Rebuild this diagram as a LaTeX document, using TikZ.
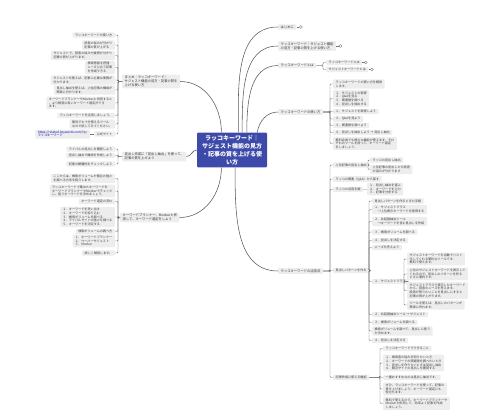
\documentclass[tikz,border=0pt]{standalone}
\usepackage{fontspec}
\setmainfont{Noto Sans CJK JP}
\usetikzlibrary{positioning}
\definecolor{rootblue}{HTML}{3D4AA9}

\begin{document}
\begin{tikzpicture}[x=1pt, y=-1pt,
  root/.style={fill=rootblue, text=white, font=\fontsize{6}{8}\selectfont\bfseries, align=center,
               rounded corners=1pt, inner xsep=3pt, inner ysep=2.5pt, minimum width=70pt},
  topic/.style={fill=black!7, text=black!80, font=\fontsize{3.3}{4}\selectfont, align=left,
                rounded corners=0.8pt, inner xsep=2.5pt, inner ysep=1.3pt},
  leaf/.style={topic, text=black!75, font=\fontsize{3.1}{3.7}\selectfont},
  url/.style={leaf, text=blue!70!black},
  fold/.style={circle, draw=black!55, line width=0.35pt, inner sep=0pt, minimum size=3pt},
  brk/.style={draw=black!55, line width=0.4pt, rounded corners=1pt},
  link/.style={draw=black!65, line width=0.55pt}
]
\useasboundingbox (0,0) rectangle (480,418);

\node[root] (root) at (232,150) {ラッコキーワード｜\\サジェスト機能の見方\\・記事の質を上げる使\\い方};

\node[topic, anchor=west] (sum) at (122,81.5) {まとめ：ラッコキーワード｜\\サジェスト機能の見方・記事の質を\\上げる使い方};
\node[leaf, anchor=east] (a1) at (115,35) {ラッコキーワードの使い方};
\node[leaf, anchor=east] (a2) at (115,45) {読者の悩みが分かり\\記事の質が上がる};
\node[leaf, anchor=east] (a3) at (115,55.5) {サジェストで、読者の悩みや疑問が分かり\\記事の質が上がります。};
\node[leaf, anchor=east] (a4) at (115,67.5) {検索意図を把握\\ニーズに合う記事\\を作成できる};
\node[leaf, anchor=east] (a5) at (115,80) {サジェストを使えば、記事に必要な情報が\\分かります。};
\node[leaf, anchor=east] (a6) at (115,90) {見出し抽出を使えば、上位記事の構成が\\簡単に分かります。};
\node[leaf, anchor=east] (a7) at (115,103) {キーワードプランナーやMozbarと併用すると\\、より精度の高いキーワード選定ができ\\ます。};
\node[leaf, anchor=east] (a8) at (115,115.5) {ラッコキーワードを活用しましょう。};
\node[leaf, anchor=east] (a9) at (115,124) {無料でも十分使えるツール\\なので試してみてください。};
\node[leaf, anchor=east] (a10) at (115,134) {公式サイト};
\node[url, anchor=east] (a10u) at (90,134) {https://related-keywords.com/?q=\\ラッコキーワード};

\node[topic, anchor=west] (hd) at (122,156.5) {見出し作成に「見出し抽出」を使って、\\記事の質を上げよう};
\node[leaf, anchor=east] (b1) at (115,149) {ライバルの見出しを確認しよう};
\node[leaf, anchor=east] (b2) at (115,155.5) {見出し抽出で構成を作成しよう};
\node[leaf, anchor=east] (b3) at (115,164) {記事の網羅性をチェックしよう};

\node[topic, anchor=west] (kp) at (120,217.5) {キーワードプランナー、Mozbarと併\\用して、キーワード選定をしよう};
\node[leaf, anchor=east] (c1) at (115,178.5) {ここからは、検索ボリュームや競合の強さ\\を調べる方法を紹介します。};
\node[leaf, anchor=east] (c2) at (115,191) {ラッコキーワードで集めたキーワードを\\キーワードプランナーやMozbarでチェック\\し、狙うキーワードを決めましょう。};
\node[leaf, anchor=east] (c3) at (115,201.5) {キーワード選定の流れ};
\node[leaf, anchor=east] (c4) at (115,217) {１．キーワードを洗い出す\\２．キーワードを絞り込む\\３．検索ボリュームを調べる\\４．ライバルサイトの強さを調べる\\５．キーワードを決定する};
\node[leaf, anchor=east] (c5) at (115,231.5) {検索ボリュームの調べ方};
\node[leaf, anchor=east] (c6) at (115,241) {１．キーワードプランナー\\２．ウーバーサジェスト\\３．Mozbar};
\node[leaf, anchor=east] (c7) at (115,253) {詳しく解説します。};

\node[topic, anchor=west] (r1) at (278,27) {はじめに};
\node[topic, anchor=west] (r2) at (278,46) {ラッコキーワード｜サジェスト機能\\の見方・記事の質を上げる使い方};
\node[topic, anchor=west] (r3) at (278,65.5) {ラッコキーワードとは};
\node[leaf, anchor=west] (r3a) at (326,62.5) {ラッコキーワードとは};
\node[leaf, anchor=west] (r3b) at (326,69.5) {サジェストキーワードとは};
\node[fold, right=2.5pt of r1] (r1f) {};
\node[fold, right=2.5pt of r2] (r2f) {};
\node[fold, right=1.5pt of r3a] (r3af) {};
\node[fold, right=1.5pt of r3b] (r3bf) {};

\node[topic, anchor=west] (r4) at (278,112) {ラッコキーワードの使い方};
\node[leaf, anchor=west] (d1) at (333,84) {ラッコキーワードの使い方を解説\\します。};
\node[leaf, anchor=west] (d2) at (333,98.5) {１．サジェストの取得\\２．Q\&Aを見る\\３．関連語を調べる\\４．見出しを抽出する};
\node[leaf, anchor=west] (d3) at (333,111.5) {１．サジェストを取得しよう};
\node[leaf, anchor=west] (d4) at (333,119) {２．Q\&Aを見よう};
\node[leaf, anchor=west] (d5) at (333,125.5) {３．関連語を調べよう};
\node[leaf, anchor=west] (d6) at (333,132.5) {４．見出しを抽出しよう → 見出し抽出};
\node[leaf, anchor=west] (d7) at (333,143.5) {無料会員でも様々な機能が使えます。それ\\ぞれのツールを使って、キーワード選定\\をしましょう。};

\node[topic, anchor=west] (r5) at (278,271) {ラッコキーワードの活用法};
\node[leaf, anchor=west] (e1) at (333,165) {上位記事の見出し抽出};
\node[leaf, anchor=west] (f1) at (370,160) {ラッコの見出し抽出};
\node[leaf, anchor=west] (f2) at (370,169.5) {上位記事の見出しから読者\\の悩みが分かります};
\node[leaf, anchor=west] (e2) at (333,179) {ラッコの関連（Q\&A）から探す};
\node[leaf, anchor=west] (e3) at (333,189.5) {ラッコの活用手順};
\node[leaf, anchor=west] (e3c) at (367,189) {１．見出し抽出を選ぶ\\２．キーワードを入力\\３．記事を分析する};
\node[leaf, anchor=west] (e4) at (333,270.5) {見出しパターンを作る};
\node[leaf, anchor=west] (g1) at (372,201) {見出しパターンを作るときの手順};
\node[leaf, anchor=west] (g2) at (372,209.5) {１．サジェストプラス\\　→上位表示キーワードを取得する};
\node[leaf, anchor=west] (g3) at (372,221.5) {２．共起語抽出ツール\\　→キーワードを含む見出しを作成};
\node[leaf, anchor=west] (g4) at (372,232) {３．検索ボリュームを調べる};
\node[leaf, anchor=west] (g5) at (372,240.5) {４．見出しを決定する};
\node[leaf, anchor=west] (g6) at (372,247.5) {ニーズを考えよう};
\node[leaf, anchor=west] (g7) at (372,281.5) {１．サジェストプラス};
\node[leaf, anchor=west] (h1) at (407,259) {サジェストキーワードを自動でリスト\\化してくれる便利なツールです。\\無料で使えます。};
\node[leaf, anchor=west] (h2) at (407,274) {上位のサジェストキーワードを表示して\\くれるので、見出しのパターンを作る\\ときに便利です。};
\node[leaf, anchor=west] (h3) at (407,290.5) {サジェストプラスで表示したキーワード\\から、読者のニーズを考えます。\\読者が知りたいことを見出しにすると\\記事の質が上がります。};
\node[leaf, anchor=west] (h4) at (407,305) {ツールを使えば、見出しのパターンが\\簡単に作れます。};
\node[leaf, anchor=west] (g8) at (372,314.5) {２．共起語抽出ツール → サジェスト};
\node[leaf, anchor=west] (g9) at (372,322.5) {３．検索ボリュームを調べる};
\node[leaf, anchor=west] (g10) at (372,331) {検索ボリュームを調べて、見出しに使う\\か決めます。};
\node[leaf, anchor=west] (g11) at (372,340.5) {４．見出しを決定する};
\node[leaf, anchor=west] (e5) at (333,377.5) {記事作成に使える機能};
\node[leaf, anchor=west] (k1) at (383,348.5) {ラッコキーワードでできること};
\node[leaf, anchor=west] (k2) at (383,363) {１．検索者の悩みを知りたいとき\\２．キーワードの関連語を調べたいとき\\３．見出しを作りたいときは見出し抽出\\４．競合サイトの見出しを確認する};
\node[leaf, anchor=west] (k3) at (383,377.5) {一番おすすめなのは見出し抽出です。};
\node[leaf, anchor=west] (k4) at (383,389) {ぜひ、ラッコキーワードを使って、記事の\\質を上げましょう。キーワード選定にも\\役立ちます。};
\node[leaf, anchor=west] (k5) at (383,403.5) {無料で使えるので、キーワードプランナーや\\Mozbarと併用して、効率よく記事を作成\\しましょう。};

\draw[link] (root.121) to[out=90,in=0] (sum.east);
\draw[link] (root.west) to[out=180,in=0] (hd.east);
\draw[link] (root.-121) to[out=-90,in=0] (kp.east);
\draw[link] (root.70) to[out=90,in=180] (r1.west);
\draw[link] (root.60) to[out=90,in=180] (r2.west);
\draw[link] (root.50) to[out=90,in=180] (r3.west);
\draw[link] (root.35) to[out=80,in=180] (r4.west);
\draw[link] (root.-80) to[out=-90,in=180] (r5.west);

\foreach \c in {a1,a2,a3,a4,a5,a6,a7,a8,a9,a10}
  \draw[brk] (sum.west) -| ([xshift=3pt]\c.east) -- (\c.east);
\foreach \c in {b1,b2,b3}
  \draw[brk] (hd.west) -| ([xshift=3pt]\c.east) -- (\c.east);
\foreach \c in {c1,c2,c3,c4,c5,c6,c7}
  \draw[brk] (kp.west) -| ([xshift=3pt]\c.east) -- (\c.east);
\foreach \c in {r3a,r3b}
  \draw[brk] (r3.east) -| ([xshift=-3pt]\c.west) -- (\c.west);
\foreach \c in {d1,d2,d3,d4,d5,d6,d7}
  \draw[brk] (r4.east) -| ([xshift=-3pt]\c.west) -- (\c.west);
\foreach \c in {e1,e2,e3,e4,e5}
  \draw[brk] (r5.east) -| ([xshift=-3pt]\c.west) -- (\c.west);
\foreach \c in {f1,f2}
  \draw[brk] (e1.east) -| ([xshift=-2pt]\c.west) -- (\c.west);
\foreach \c in {g1,g2,g3,g4,g5,g6,g7,g8,g9,g10,g11}
  \draw[brk] (e4.east) -| ([xshift=-3pt]\c.west) -- (\c.west);
\foreach \c in {h1,h2,h3,h4}
  \draw[brk] (g7.east) -| ([xshift=-3pt]\c.west) -- (\c.west);
\foreach \c in {k1,k2,k3,k4,k5}
  \draw[brk] (e5.east) -| ([xshift=-3pt]\c.west) -- (\c.west);
\draw[brk] (e3) -- (e3c);
\draw[brk] (a10) -- (a10u);
\draw[brk] (r1) -- (r1f);
\draw[brk] (r2) -- (r2f);
\draw[brk] (r3a) -- (r3af);
\draw[brk] (r3b) -- (r3bf);
\end{tikzpicture}
\end{document}
